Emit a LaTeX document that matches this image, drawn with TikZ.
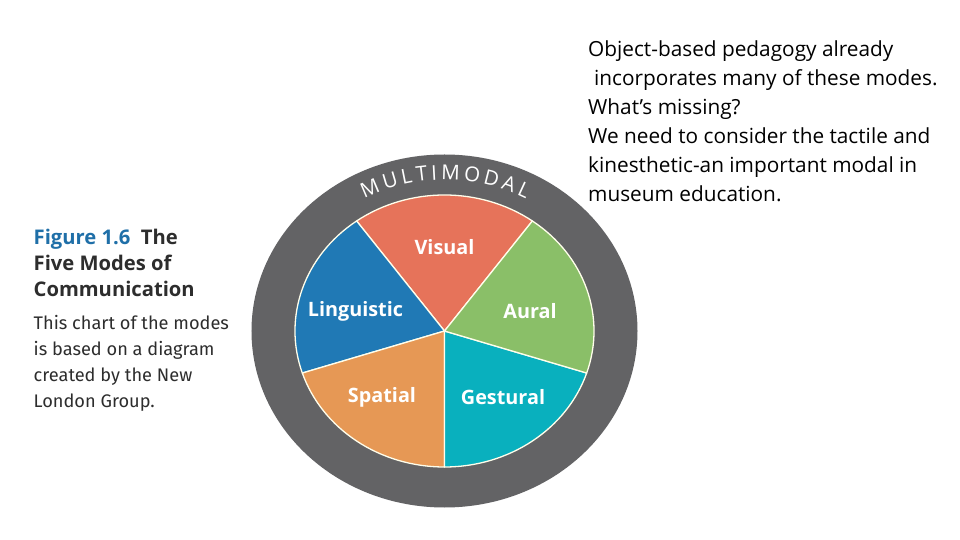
\documentclass[tikz,border=0pt]{standalone}
\usepackage{fontspec}
\setmainfont{Open Sans}
\newfontfamily\figfont{Fira Sans}
\usetikzlibrary{decorations.text}
\definecolor{ringgray}{RGB}{99, 99, 101}
\definecolor{visualred}{RGB}{230, 115, 90}
\definecolor{auralgreen}{RGB}{138, 191, 104}
\definecolor{gesturalteal}{RGB}{9, 176, 190}
\definecolor{spatialorange}{RGB}{230, 152, 85}
\definecolor{linguisticblue}{RGB}{32, 121, 181}
\definecolor{figureblue}{RGB}{31, 111, 168}
\definecolor{captiontext}{RGB}{45, 45, 45}
\tikzset{
    modewedge/.style={draw=white!92!yellow, line width=1.3pt, line join=round},
    modelabel/.style={text=white, font=\fontsize{19.8}{19.8}\selectfont\bfseries, inner sep=0pt},
    captionhead/.style={anchor=north west, align=left, inner sep=0pt, text=captiontext,
        font=\fontsize{20.2}{26}\selectfont\bfseries},
    captionbody/.style={anchor=north west, align=left, inner sep=0pt, text=captiontext,
        font=\figfont\fontsize{18.2}{26}\selectfont},
    sidenote/.style={anchor=north west, align=left, inner sep=0pt, text=black,
        font=\fontsize{20.8}{29}\selectfont}
}

\begin{document}
\begin{tikzpicture}[x=1pt, y=1pt]
    % page, origin at the centre of the chart
    \useasboundingbox[fill=white] (-444.5,-209) rectangle (515.5,331);
    % outer ring
    \fill[ringgray] (0,0) ellipse [x radius=193, y radius=176.5];
    % five modes
    \foreach \ang/\col in {54/visualred, 126/linguisticblue, 198/spatialorange, 270/gesturalteal, 342/auralgreen} {
        \draw[modewedge, fill=\col] (0,0) -- (\ang:149.5 and 136)
            arc [start angle=\ang, delta angle=72, x radius=149.5, y radius=136] -- cycle;
    }
    \node[modelabel] (visual) at (0,84) {Visual};
    \node[modelabel] (linguistic) at (-89,20) {Linguistic};
    \node[modelabel] (aural) at (85.5,20) {Aural};
    \node[modelabel] (spatial) at (-62.5,-66) {Spatial};
    \node[modelabel] (gestural) at (58.5,-66) {Gestural};
    % ring title
    \path[decorate, decoration={text along path, text align={fit to path},
        text color=white, text={|\fontsize{20.5}{20.5}\selectfont|MULTIMODAL}}]
        (118.5:168 and 151) arc [start angle=118.5, end angle=61, x radius=168, y radius=151];
    % caption on the left
    \node[captionhead] (caphead) at (-411,102.5)
        {\textcolor{figureblue}{Figure 1.6}\ \ The\\Five Modes of\\Communication};
    \node[captionbody] (capbody) at (-411,16)
        {This chart of the modes\\is based on a diagram\\created by the New\\London Group.};
    % note on the right
    \node[sidenote] (note) at (143.5,290.5)
        {Object-based pedagogy already\\
        \hspace{6pt}incorporates many of these modes.\\
        What’s missing?\\
        We need to consider the tactile and\\
        kinesthetic-an important modal in\\
        museum education.};
\end{tikzpicture}
\end{document}
